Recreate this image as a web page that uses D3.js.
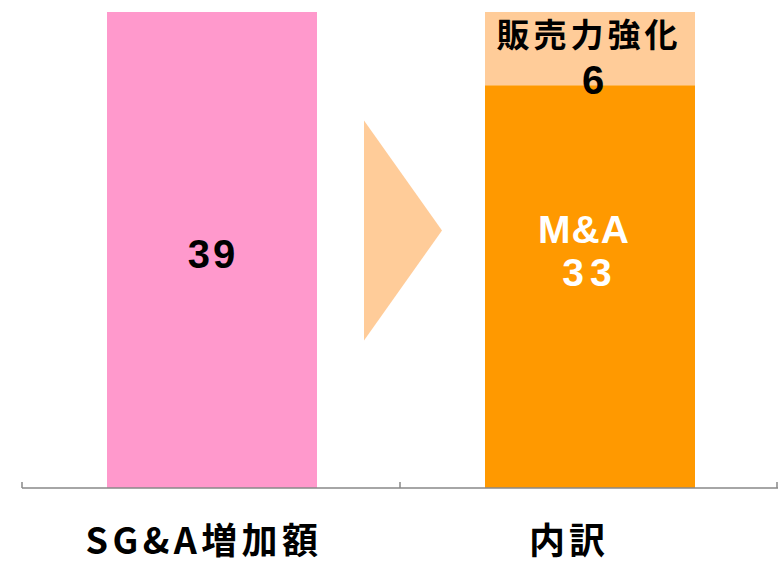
<!DOCTYPE html>
<html>
<head>
<meta charset="utf-8">
<script src="https://cdn.jsdelivr.net/npm/d3@7"></script>
<style>
  body { margin: 0; background: #fff; }
  svg text { font-family: "Noto Sans CJK JP", "Noto Sans", sans-serif; font-weight: bold; }
  svg text.num { font-family: "Liberation Sans", Arial, sans-serif; }
</style>
</head>
<body>
<div id="chart"></div>
<script>
var categories = ["SG&A増加額", "内訳"];
var segNames = ["total", "M&A", "販売力強化"];
var totalValues = [39, 0];
var maValues = [0, 33];
var salesValues = [0, 6];

var width = 778, height = 565;
var axisY = 488;

var svg = d3.select("#chart").append("svg")
    .attr("width", width)
    .attr("height", height);

var x = d3.scaleBand()
    .domain(categories)
    .range([22, 778]);

var y = d3.scaleLinear()
    .domain([0, 39])
    .range([axisY, 12]);

var barW = 210;

// stacked series
var rows = categories.map(function(c, i){
  return {cat: c, total: totalValues[i], "M&A": maValues[i], "販売力強化": salesValues[i]};
});
var stack = d3.stack().keys(segNames)(rows);
var colors = {"total": "#FF99CC", "M&A": "#FF9900", "販売力強化": "#FFCC99"};

var layers = svg.selectAll(".layer")
    .data(stack)
  .enter().append("g")
    .attr("class", "layer")
    .style("fill", function(d){ return colors[d.key]; });

layers.selectAll("rect")
    .data(function(d){ return d; })
  .enter().append("rect")
    .filter(function(d){ return d[1] > d[0]; })
    .attr("x", function(d){ return x(d.data.cat) + x.bandwidth()/2 - barW/2 + 1; })
    .attr("y", function(d){ return y(d[1]); })
    .attr("width", barW)
    .attr("height", function(d){ return y(d[0]) - y(d[1]); });

// arrow between the bars
var ax = x(categories[1]) - 36;
var midY = y(21.1);
svg.append("path")
    .attr("d", "M" + ax + "," + (midY - 110) + "L" + (ax + 78) + "," + midY + "L" + ax + "," + (midY + 110) + "Z")
    .style("fill", "#FFCC99");

// axis
var axis = svg.append("g")
    .attr("transform", "translate(0," + axisY + ")");
axis.append("line")
    .attr("x1", 22).attr("x2", 778)
    .attr("y1", 0).attr("y2", 0)
    .style("stroke", "#888").style("stroke-width", 1.5);
var tickXs = [22, x(categories[1]), 777];
axis.selectAll(".tick")
    .data(tickXs)
  .enter().append("line")
    .attr("x1", function(d){ return d; }).attr("x2", function(d){ return d; })
    .attr("y1", -6).attr("y2", 0)
    .style("stroke", "#888").style("stroke-width", 1.5);

// category labels
svg.selectAll(".cat")
    .data(categories)
  .enter().append("text")
    .attr("class", "cat")
    .attr("x", function(d, i){ return x(d) + x.bandwidth()/2 + (i == 0 ? -7 : -20); })
    .attr("y", 554)
    .attr("text-anchor", "middle")
    .style("font-size", "36px")
    .style("letter-spacing", function(d, i){ return i == 0 ? "4.4px" : "4px"; })
    .style("fill", "#000")
    .text(function(d){ return d; });

// value labels
var cx0 = x(categories[0]) + x.bandwidth()/2 + 2;
var cx1 = x(categories[1]) + x.bandwidth()/2;

svg.append("text")
    .attr("class", "num")
    .attr("x", cx0).attr("y", y(totalValues[0] / 2) + 18)
    .attr("text-anchor", "middle")
    .style("font-size", "40px").style("letter-spacing", "3px")
    .style("fill", "#000")
    .text(totalValues[0]);

var maMid = y(maValues[1] / 2);
var maText = svg.append("text")
    .attr("class", "num")
    .attr("text-anchor", "middle")
    .style("font-size", "39px")
    .style("fill", "#fff");
maText.append("tspan")
    .attr("x", cx1 - 5).attr("y", maMid - 44)
    .style("letter-spacing", "1px")
    .text("M&A");
maText.append("tspan")
    .attr("x", cx1 + 1).attr("y", maMid - 1)
    .style("letter-spacing", "6px")
    .text(maValues[1]);

svg.append("text")
    .attr("x", cx1).attr("y", 47)
    .attr("text-anchor", "middle")
    .style("font-size", "33px").style("letter-spacing", "4px")
    .style("fill", "#000")
    .text("販売力強化");
svg.append("text")
    .attr("class", "num")
    .attr("x", cx1 + 4).attr("y", 94)
    .attr("text-anchor", "middle")
    .style("font-size", "40px")
    .style("fill", "#000")
    .text(salesValues[1]);
</script>
</body>
</html>
